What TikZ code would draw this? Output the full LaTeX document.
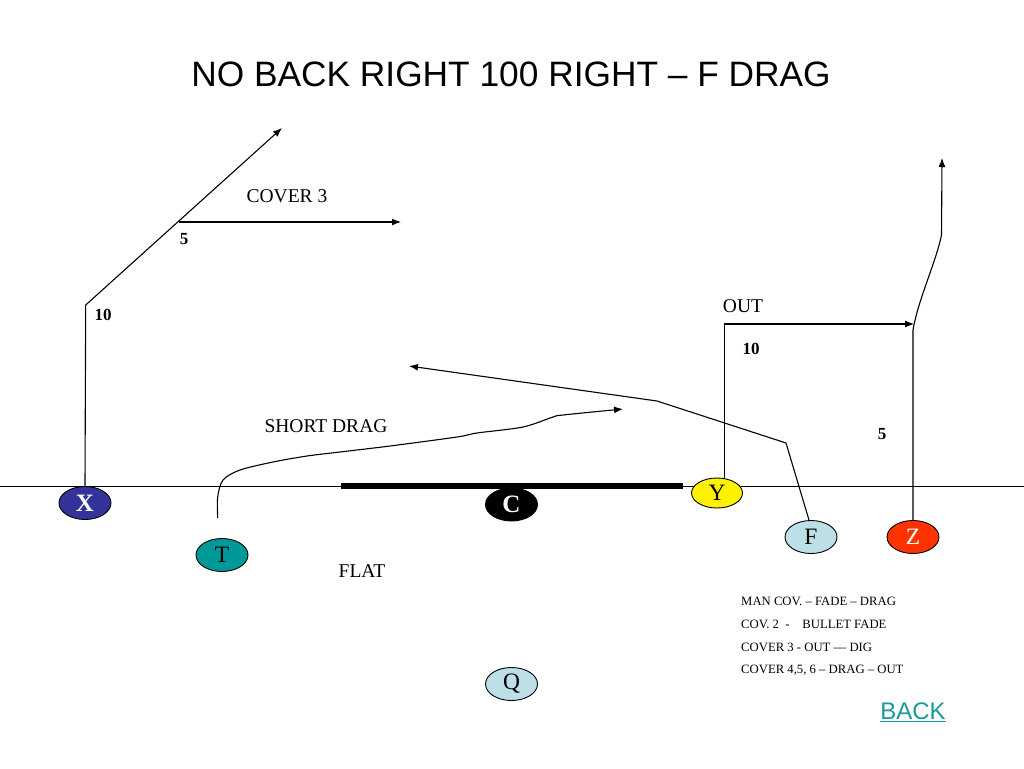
\documentclass[tikz,border=0pt]{standalone}
\usepackage{fontspec}
\setmainfont{Liberation Serif}
\newfontfamily\arialfont{Liberation Sans}
\usetikzlibrary{arrows.meta}
\definecolor{xblue}{HTML}{333399}
\definecolor{tteal}{HTML}{009999}
\definecolor{lblue}{HTML}{BCE0E5}
\definecolor{zred}{HTML}{FF3300}
\definecolor{backteal}{HTML}{1A9A9A}
\tikzset{
  player/.style={ellipse, draw=black, line width=0.9pt, minimum width=52pt, minimum height=33pt, inner sep=0pt,
     font=\fontsize{23.5}{23.5}\selectfont},
  route/.style={line width=1.1pt, -{Latex[length=9pt,width=7pt]}},
  plain/.style={line width=1.1pt},
  lbl/.style={font=\fontsize{19.5}{20}\selectfont, inner sep=0pt},
  num/.style={font=\fontsize{17}{17}\bfseries\selectfont, inner sep=0pt},
  note/.style={font=\fontsize{12.7}{13}\selectfont, inner sep=0pt, anchor=west},
}
\usetikzlibrary{shapes.geometric}
\begin{document}
\begin{tikzpicture}[x=1pt,y=-1pt]
\useasboundingbox[fill=white] (0,0) rectangle (1024,768);
% title
\node[font=\arialfont\fontsize{35.3}{35}\selectfont, inner sep=0pt] (title) at (511,74) {NO BACK RIGHT 100 RIGHT – F DRAG};
% line of scrimmage
\coordinate (losL) at (0,486);
\coordinate (losR) at (1024,486);
\draw[line width=1pt] (losL) -- (losR);
\coordinate (olL) at (341,486);
\coordinate (olR) at (683,486);
\draw[line width=6pt] (olL) -- (olR);
% players
\node[player, fill=xblue, text=white, font=\fontsize{25}{25}\bfseries\selectfont] (X) at (85,503) {X};
\node[player, fill=black, text=white, font=\fontsize{25}{25}\bfseries\selectfont] (C) at (511.5,504.5) {C};
\node[player, fill=yellow, minimum width=51pt, minimum height=30pt] (Y) at (717,493) {Y};
\node[player, fill=tteal] (T) at (222,555) {T};
\node[player, fill=lblue] (F) at (811,537) {F};
\node[player, fill=zred, text=white] (Z) at (913,537) {Z};
\node[player, fill=lblue] (Q) at (511.5,684) {Q};
% X route
\coordinate (x1) at (85.7,305);
\coordinate (x2) at (179,222);
\coordinate (x3) at (282,128);
\coordinate (x4) at (401,222);
\draw[plain] (X.north) -- (x1);
\draw[route] (x1) -- (x3);
\draw[route] (x2) -- (x4);
\node[num] (n10a) at (103,315) {10};
\node[num] (n5a) at (184,239) {5};
\node[lbl] (cov3) at (287,196) {COVER 3};
% Y route
\coordinate (y0) at (724.5,478);
\coordinate (y1) at (724.5,324);
\coordinate (y2) at (914,324);
\draw[route] (y0) -- (y1) -- (y2);
\node[lbl] (out) at (743,306) {OUT};
\node[num] (n10b) at (751,349) {10};
% Z route
\coordinate (z1) at (913,330);
\coordinate (z2) at (941.5,235);
\coordinate (z3) at (942,158);
\draw[route] (Z.north) -- (z1) .. controls (918,300) and (936,262) .. (z2) -- (z3);
\node[num] (n5b) at (882,434) {5};
% F route
\coordinate (f1) at (786,443);
\coordinate (f2) at (657,401);
\coordinate (f3) at (409,366);
\draw[route] ([xshift=-2pt]F.north) -- (f1) -- (f2) -- (f3);
% T route
\coordinate (t0) at (217.7,518);
\draw[route] plot[smooth, tension=0.5] coordinates {(217.7,518) (217.7,497) (223,480) (240,470) (273,462) (307,456) (340,452) (390,446) (457,437) (477,433) (523,427) (553,417) (563,415) (623,409)};
\node[lbl] (sdrag) at (326,426) {SHORT DRAG};
\node[lbl] (flat) at (362,571) {FLAT};
% notes
\node[note] (nt1) at (741,601) {MAN COV. – FADE – DRAG};
\node[note] (nt2) at (741,624) {COV. 2\ \ -\ \ \ \ BULLET FADE};
\node[note] (nt3) at (741,647) {COVER 3 - OUT — DIG};
\node[note] (nt4) at (741,670) {COVER 4,5, 6 – DRAG – OUT};
% back link
\node[font=\arialfont\fontsize{24}{24}\selectfont, text=backteal, inner sep=0pt] (back) at (913,711) {BACK};
\draw[backteal, line width=1pt] ([yshift=-2pt]back.south west) -- ([yshift=-2pt]back.south east);
\end{tikzpicture}
\end{document}
